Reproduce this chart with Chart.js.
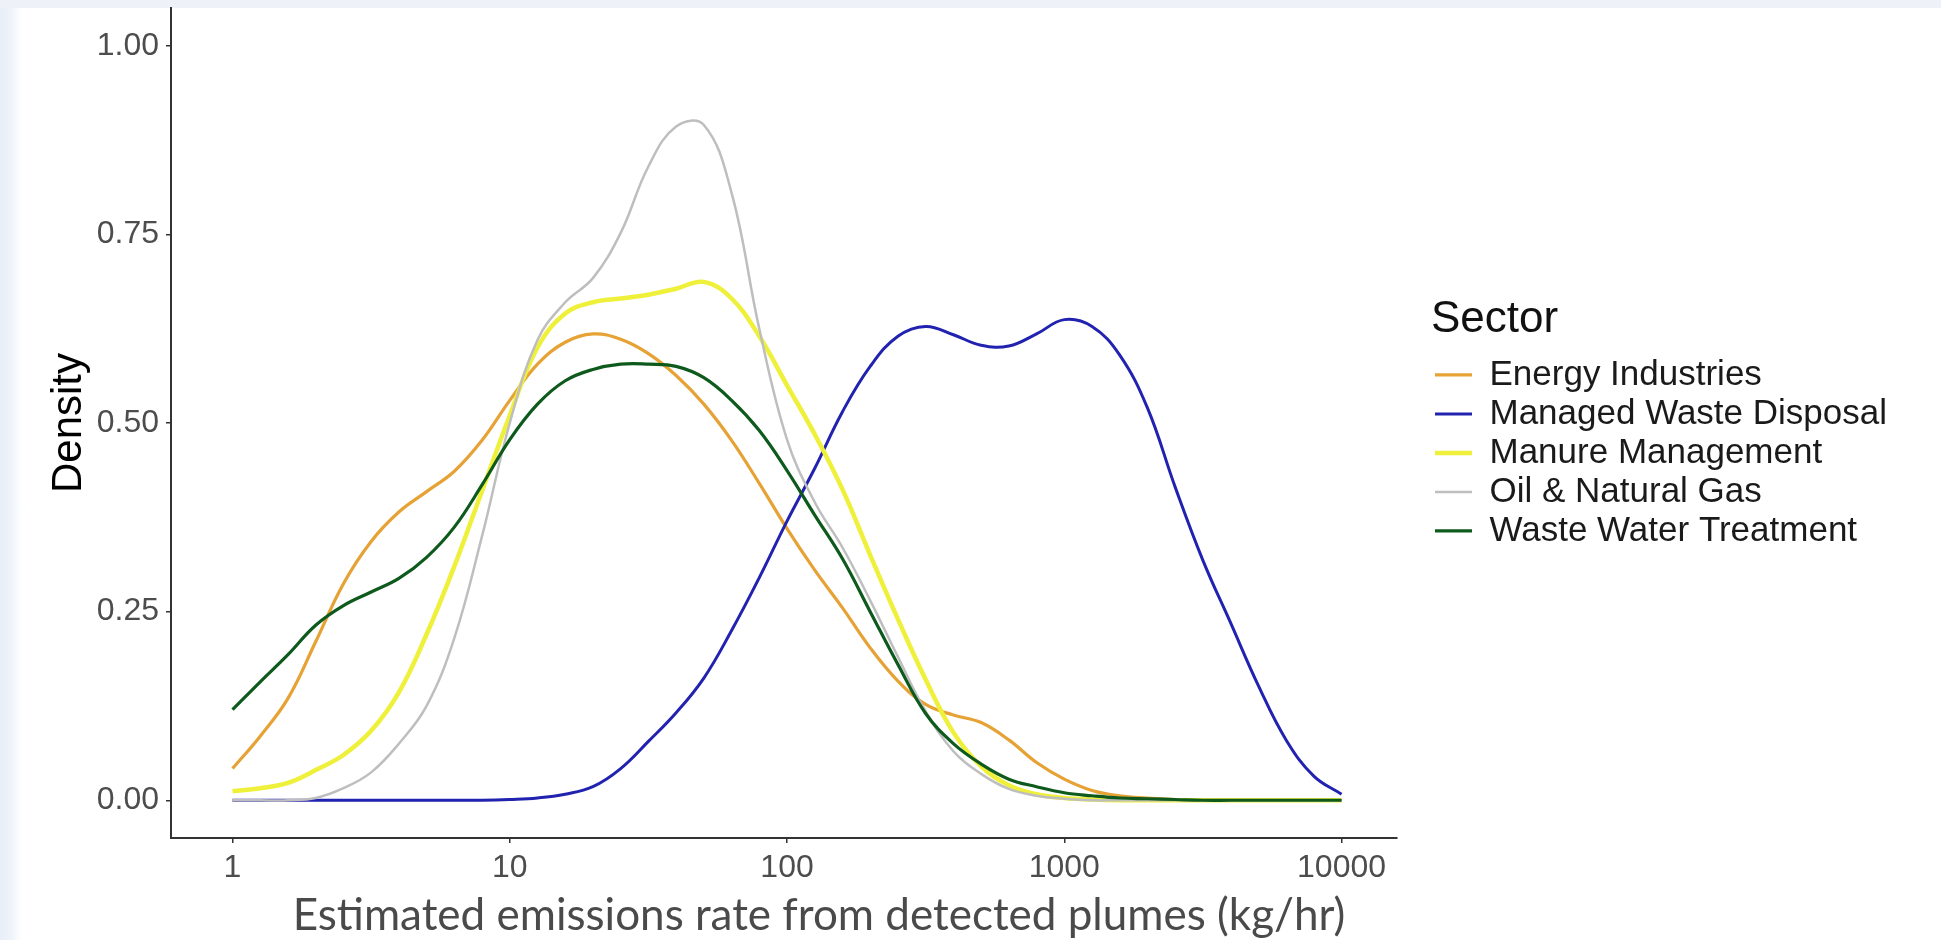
<!DOCTYPE html>
<html>
<head>
<meta charset="utf-8">
<script src="https://cdn.jsdelivr.net/npm/chart.js@4.4.1/dist/chart.umd.min.js"></script>
<style>
  html, body { margin: 0; padding: 0; background: #fff; }
  #wrap {
    position: relative; width: 1941px; height: 940px;
    background:
      linear-gradient(to bottom, #eef2f8 0, #eef2f8 8px, rgba(255,255,255,0) 8px),
      linear-gradient(to right, #e8eef7 0, #f0f4fa 12px, #ffffff 22px);
  }
  canvas { position: absolute; left: 0; top: 0; }
</style>
</head>
<body>
<div id="wrap"><canvas id="c" width="1941" height="940"></canvas></div>
<script>
// ---- data ----
const emissionRates = [1, 1.259, 1.585, 1.995, 2.512, 3.162, 3.981, 5.012, 6.31, 7.943,
  10, 12.59, 15.85, 19.95, 25.12, 31.62, 39.81, 50.12, 63.1, 79.43,
  100, 125.9, 158.5, 199.5, 251.2, 316.2, 398.1, 501.2, 631, 794.3,
  1000, 1259, 1585, 1995, 2512, 3162, 3981, 5012, 6310, 7943, 10000];

const energyIndustries = [0.042, 0.085, 0.135, 0.21, 0.287, 0.343, 0.382, 0.409, 0.436, 0.477,
  0.53, 0.578, 0.607, 0.618, 0.611, 0.592, 0.563, 0.525, 0.477, 0.42,
  0.36, 0.305, 0.255, 0.202, 0.158, 0.127, 0.113, 0.103, 0.08, 0.05,
  0.028, 0.013, 0.006, 0.003, 0.001, 0, 0, 0, 0, 0, 0];

const managedWasteDisposal = [0, 0, 0, 0, 0, 0, 0, 0, 0, 0,
  0.001, 0.003, 0.008, 0.018, 0.042, 0.078, 0.116, 0.162, 0.225, 0.295,
  0.37, 0.44, 0.515, 0.575, 0.615, 0.628, 0.617, 0.603, 0.602, 0.618,
  0.637, 0.628, 0.59, 0.52, 0.415, 0.318, 0.235, 0.152, 0.08, 0.032, 0.008];

const manureManagement = [0.012, 0.016, 0.023, 0.04, 0.06, 0.092, 0.143, 0.22, 0.31, 0.41,
  0.51, 0.6, 0.645, 0.66, 0.665, 0.67, 0.678, 0.687, 0.665, 0.615,
  0.55, 0.485, 0.412, 0.325, 0.24, 0.16, 0.09, 0.045, 0.02, 0.008,
  0.003, 0.001, 0, 0, 0, 0, 0, 0, 0, 0, 0];

const oilNaturalGas = [0, 0, 0, 0.003, 0.016, 0.037, 0.075, 0.125, 0.215, 0.35,
  0.5, 0.61, 0.66, 0.692, 0.752, 0.84, 0.893, 0.895, 0.805, 0.625,
  0.478, 0.395, 0.335, 0.265, 0.19, 0.118, 0.065, 0.035, 0.015, 0.006,
  0.002, 0, 0, 0, 0, 0, 0, 0, 0, 0, 0];

const wasteWaterTreatment = [0.12, 0.157, 0.193, 0.232, 0.258, 0.276, 0.294, 0.322, 0.362, 0.418,
  0.478, 0.525, 0.556, 0.571, 0.578, 0.578, 0.575, 0.56, 0.53, 0.49,
  0.437, 0.378, 0.32, 0.25, 0.18, 0.115, 0.075, 0.048, 0.028, 0.018,
  0.01, 0.006, 0.003, 0.002, 0.001, 0, 0, 0, 0, 0, 0];

const sectorNames = ['Energy Industries', 'Managed Waste Disposal', 'Manure Management', 'Oil & Natural Gas', 'Waste Water Treatment'];
const xTickValues = [1, 10, 100, 1000, 10000];
const yTickValues = [0, 0.25, 0.5, 0.75, 1.0];
const legendTitle = 'Sector';
const yAxisTitle = 'Density';
const xAxisTitle = 'Estimated emissions rate from detected plumes (kg/hr)';

// ---- styles ----
const seriesValues = [energyIndustries, managedWasteDisposal, manureManagement, oilNaturalGas, wasteWaterTreatment];
const seriesColors = ['#E6A234', '#2222B0', '#EEF03A', '#BEBEBE', '#0E5A1C'];
const seriesWidths = [3.2, 3, 4.5, 2.5, 3.2];
const drawOrder = [5, 4, 3, 2, 1];
const FONT = '"Liberation Sans", Arial, Helvetica, sans-serif';

const datasets = sectorNames.map((name, i) => ({
  label: name,
  data: emissionRates.map((x, j) => ({ x: x, y: seriesValues[i][j] })),
  borderColor: seriesColors[i],
  backgroundColor: seriesColors[i],
  borderWidth: seriesWidths[i],
  pointRadius: 0,
  fill: false,
  tension: 0.4,
  order: drawOrder[i]
}));

const xTitlePlugin = {
  id: 'xTitle',
  afterDraw(chart) {
    const c = chart.ctx;
    const a = chart.chartArea;
    c.save();
    c.font = '44px Lato, "Open Sans", sans-serif';
    c.fillStyle = '#4a4a4a';
    c.textAlign = 'center';
    c.textBaseline = 'middle';
    c.fillText(xAxisTitle, a.left + 648, 916);
    c.restore();
  }
};

new Chart(document.getElementById('c'), {
  type: 'line',
  data: { datasets },
  options: {
    responsive: false,
    animation: false,
    devicePixelRatio: 1,
    layout: { padding: { top: 8, left: 0, right: 44, bottom: 0 } },
    plugins: {
      legend: {
        position: 'right',
        align: 'center',
        fullSize: false,
        maxWidth: 540,
        title: {
          display: true, text: legendTitle, color: '#111', position: 'start',
          font: { family: FONT, size: 44 }, padding: { top: 4, bottom: 3 }
        },
        labels: {
          usePointStyle: true, pointStyle: 'line', pointStyleWidth: 37, boxHeight: 30,
          font: { family: FONT, size: 35 }, color: '#1a1a1a', padding: 4,
          sort: (a, b) => a.datasetIndex - b.datasetIndex
        }
      },
      tooltip: { enabled: false }
    },
    scales: {
      x: {
        type: 'logarithmic', position: 'bottom',
        min: 0.631, max: 15849,
        afterBuildTicks: s => { s.ticks = xTickValues.map(v => ({ value: v })); },
        afterFit: s => { s.height = 102; s.paddingLeft = 0; s.paddingRight = 0; },
        ticks: {
          callback: v => String(v), font: { family: FONT, size: 32 }, color: '#4d4d4d',
          padding: 6, maxRotation: 0, autoSkip: false
        },
        grid: { display: true, drawOnChartArea: false, tickLength: 5, color: '#333', lineWidth: 1.5 },
        border: { display: true, color: '#333', width: 2 }
      },
      y: {
        type: 'linear', position: 'left',
        min: -0.05, max: 1.05,
        afterBuildTicks: s => { s.ticks = yTickValues.map(v => ({ value: v })); },
        afterFit: s => { s.width = 171; s.paddingTop = 0; s.paddingBottom = 0; },
        ticks: {
          callback: v => Number(v).toFixed(2), font: { family: FONT, size: 32 }, color: '#4d4d4d', padding: 7
        },
        grid: { display: true, drawOnChartArea: false, tickLength: 5, color: '#333', lineWidth: 1.5 },
        border: { display: true, color: '#333', width: 2 },
        title: {
          display: true, text: yAxisTitle, color: '#000',
          font: { family: FONT, size: 42 }, padding: { top: 44, bottom: 0 }
        }
      },
      gap: {
        type: 'linear', position: 'right', display: true,
        afterFit: s => { s.width = 34; s.paddingTop = 0; s.paddingBottom = 0; },
        grid: { display: false }, border: { display: false }, ticks: { display: false }
      }
    }
  },
  plugins: [xTitlePlugin]
});
</script>
</body>
</html>
